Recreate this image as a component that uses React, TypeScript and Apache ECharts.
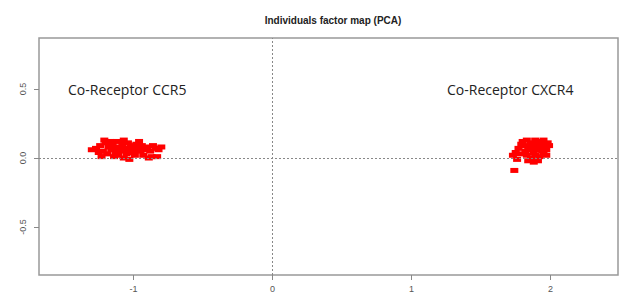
import React, { useEffect, useRef } from "react";
import * as echarts from "echarts";

const titleText = "Individuals factor map (PCA)";
const xTicks = [-1, 0, 1, 2];
const yTicks = [-0.5, 0, 0.5];
const groupLabels = ["Co-Receptor CCR5", "Co-Receptor CXCR4"];

const ccr5Points: [number, number][] = [
  [-1.27, 0.07], [-1.24, 0.09], [-1.22, 0.05], [-1.2, 0.11], [-1.18, 0.08], [-1.16, 0.06],
  [-1.15, 0.1], [-1.13, 0.04], [-1.12, 0.12], [-1.1, 0.08], [-1.09, 0.05], [-1.08, 0.1],
  [-1.06, 0.07], [-1.05, 0.03], [-1.04, 0.11], [-1.02, 0.09], [-1.01, 0.06], [-1.0, 0.04],
  [-0.98, 0.1], [-0.97, 0.07], [-0.95, 0.05], [-0.94, 0.09], [-0.92, 0.06], [-0.9, 0.08],
  [-0.88, 0.05], [-0.86, 0.09], [-0.84, 0.07], [-0.82, 0.06], [-0.8, 0.08], [-1.19, 0.03],
  [-1.11, 0.02], [-1.07, 0.0], [-1.03, -0.01], [-1.14, 0.01], [-0.99, 0.02], [-0.93, 0.02],
  [-0.87, 0.01], [-1.25, 0.04], [-1.21, 0.13], [-1.17, 0.12], [-1.07, 0.13], [-0.96, 0.12],
  [-1.3, 0.06], [-1.23, 0.01], [-0.89, 0.0], [-0.83, 0.01], [-1.05, 0.06], [-1.1, 0.06],
  [-1.15, 0.07],
];

const cxcr4Points: [number, number][] = [
  [1.8, 0.12], [1.83, 0.13], [1.86, 0.11], [1.89, 0.13], [1.92, 0.12], [1.95, 0.13],
  [1.98, 0.11], [1.81, 0.09], [1.84, 0.08], [1.87, 0.1], [1.9, 0.09], [1.93, 0.1],
  [1.96, 0.08], [1.99, 0.09], [1.82, 0.05], [1.85, 0.06], [1.88, 0.04], [1.91, 0.06],
  [1.94, 0.05], [1.97, 0.06], [1.77, 0.07], [1.78, 0.03], [1.83, 0.02], [1.86, 0.0],
  [1.89, 0.02], [1.92, 0.01], [1.95, 0.03], [1.84, -0.02], [1.88, -0.03], [1.91, -0.02],
  [1.75, 0.04], [1.73, 0.02], [1.76, -0.01], [1.74, -0.09], [1.79, 0.1], [1.97, 0.02],
  [1.9, 0.11], [1.86, 0.07], [1.93, 0.07],
];

export default function App() {
  const ref = useRef<HTMLDivElement>(null);
  useEffect(() => {
    if (!ref.current) return;
    const chart = echarts.init(ref.current, null, { renderer: "svg" });
    const axisCommon = {
      axisLine: { show: false, onZero: false },
      splitLine: { show: false },
      axisTick: { show: true, inside: false, length: 5, lineStyle: { color: "#888" } },
    };
    chart.setOption({
      animation: false,
      backgroundColor: "#ffffff",
      title: {
        text: titleText,
        left: 328,
        textAlign: "center",
        top: 10,
        textStyle: { fontFamily: "Liberation Sans, Arial", fontSize: 10, fontWeight: "bold", color: "#222" },
      },
      grid: {
        left: 39,
        right: 4,
        top: 38,
        bottom: 31,
        show: true,
        borderColor: "#999",
        borderWidth: 1.5,
        backgroundColor: "transparent",
      },
      xAxis: {
        type: "value",
        min: -1.68,
        max: 2.486,
        ...axisCommon,
        axisTick: { ...axisCommon.axisTick, customValues: xTicks },
        axisLabel: {
          customValues: xTicks,
          color: "#555",
          fontSize: 9,
          margin: 9,
          fontFamily: "Liberation Sans, Arial",
          formatter: (v: number) => String(v),
        },
      },
      yAxis: {
        type: "value",
        min: -0.848,
        max: 0.87,
        ...axisCommon,
        axisTick: { ...axisCommon.axisTick, customValues: yTicks },
        axisLabel: {
          customValues: yTicks,
          rotate: 90,
          color: "#555",
          fontSize: 9,
          margin: 12,
          fontFamily: "Liberation Sans, Arial",
          formatter: (v: number) => v.toFixed(1),
        },
      },
      graphic: [
        {
          type: "text",
          left: 68,
          top: 82,
          style: { text: groupLabels[0], fontSize: 14, fontFamily: "Open Sans", fill: "#222" },
        },
        {
          type: "text",
          left: 447,
          top: 82,
          style: { text: groupLabels[1], fontSize: 14, fontFamily: "Open Sans", fill: "#222" },
        },
      ],
      series: [
        {
          type: "scatter",
          data: ccr5Points,
          symbol: "rect",
          symbolSize: [8, 5],
          itemStyle: { color: "#ff0000", opacity: 1 },
          markLine: {
            silent: true,
            symbol: "none",
            label: { show: false },
            lineStyle: { type: [2, 2], color: "#888", width: 1 },
            data: [{ xAxis: 0 }, { yAxis: 0 }],
          },
        },
        {
          type: "scatter",
          data: cxcr4Points,
          symbol: "rect",
          symbolSize: [8, 5],
          itemStyle: { color: "#ff0000", opacity: 1 },
        },
      ],
    });
    return () => chart.dispose();
  }, []);
  return <div ref={ref} style={{ width: 622, height: 306, position: "fixed", left: 0, top: 0 }} />;
}
